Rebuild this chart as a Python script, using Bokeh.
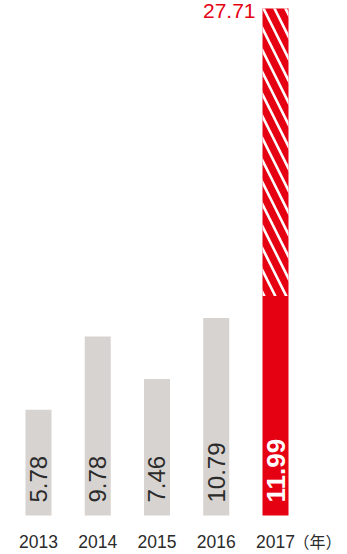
from bokeh.plotting import figure
from bokeh.models import Range1d, ColumnDataSource
from bokeh.core.properties import value
from bokeh.embed import file_html
from bokeh.resources import INLINE

years = ["2013", "2014", "2015", "2016", "2017"]
values = [5.78, 9.78, 7.46, 10.79, 11.99]
value_labels = ["5.78", "9.78", "7.46", "10.79", "11.99"]
total_2017 = 27.71
total_label = "27.71"
unit_label = "（年）"

GRAY = "#d7d3d0"
RED = "#e50012"
DARK = "#2b2b2b"

xs = list(range(len(years)))

p = figure(width=347, height=554, output_backend="svg", toolbar_location=None,
           x_range=Range1d(-0.641, 5.215), y_range=Range1d(-2.131, 28.142),
           min_border=0, min_border_left=0, min_border_right=0,
           min_border_top=0, min_border_bottom=0)
p.axis.visible = False
p.grid.visible = False
p.outline_line_color = None
p.background_fill_color = "white"
p.border_fill_color = "white"

colors = [GRAY] * (len(years) - 1) + [RED]
src = ColumnDataSource(dict(x=xs, top=values, color=colors, lab=value_labels,
                            year=years, base=[0] * len(xs)))
p.vbar(x="x", top="top", bottom=0, width=0.439, fill_color="color",
       line_color=None, source=src)

# hatched upper segment for 2017
p.vbar(x=[xs[-1]], bottom=[values[-1]], top=[total_2017], width=0.439,
       fill_color=RED, line_color=None, hatch_pattern="\\",
       hatch_color="white", hatch_weight=2.6, hatch_scale=22)

# value labels inside bars
gsrc = ColumnDataSource(dict(x=xs[:-1], y=[0] * (len(xs) - 1),
                             lab=value_labels[:-1]))
p.text(x="x", y="y", text="lab", source=gsrc, angle=1.5708,
       text_align="left", text_baseline="middle", y_offset=-13,
       text_font=value("Liberation Sans"), text_font_size="24px",
       text_color=DARK)
p.text(x=[xs[-1]], y=[0], text=[value_labels[-1]], angle=1.5708,
       text_align="left", text_baseline="middle", y_offset=-13,
       text_font=value("Liberation Sans"), text_font_size="26px",
       text_font_style="bold", text_color="white")

# total label
p.text(x=[xs[-1]], y=[total_2017], text=[total_label], text_align="right",
       text_baseline="top", x_offset=-20, y_offset=-4,
       text_font=value("Liberation Sans"), text_font_size="21px",
       text_color=RED)

# year labels
p.text(x="x", y="base", text="year", source=src, text_align="center",
       text_baseline="middle", y_offset=26,
       text_font=value("Liberation Sans"), text_font_size="17.5px",
       text_color=DARK)
p.text(x=[xs[-1]], y=[0], text=[unit_label], text_align="left",
       text_baseline="middle", x_offset=18, y_offset=25,
       text_font=value("Noto Sans CJK JP"), text_font_size="16px",
       text_color=DARK)

open("out.html", "w").write(file_html(p, INLINE))
